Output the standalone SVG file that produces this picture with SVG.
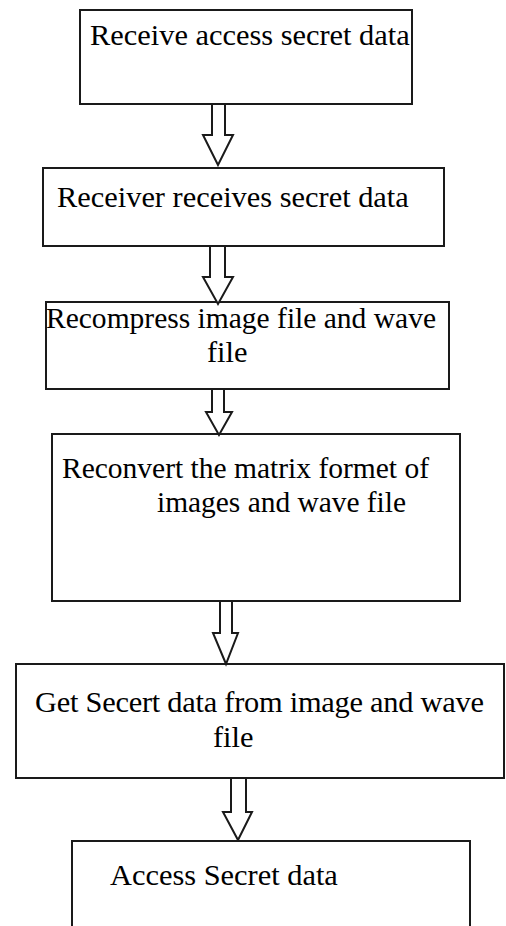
<svg xmlns="http://www.w3.org/2000/svg" width="506" height="926" viewBox="0 0 506 926">
  <style>
    .box { fill: #ffffff; stroke: #1a1a1a; stroke-width: 2; }
    .arrow { fill: #ffffff; stroke: #1a1a1a; stroke-width: 2; stroke-linejoin: miter; }
    .label { font-family: "Liberation Serif", "Times New Roman", serif; font-size: 30.4px; fill: #000000; }
  </style>
  <rect width="506" height="926" fill="#ffffff"/>

  <g id="step1">
    <rect class="box" x="80" y="10" width="332" height="94"/>
    <text class="label" x="90" y="45">Receive access secret data</text>
  </g>

  <g id="step2">
    <rect class="box" x="43" y="168" width="401" height="78"/>
    <text class="label" x="57" y="207">Receiver receives secret data</text>
  </g>

  <g id="step3">
    <rect class="box" x="46" y="302" width="403" height="87"/>
    <text class="label" x="46" y="328" textLength="390" lengthAdjust="spacingAndGlyphs">Recompress image file and wave</text>
    <text class="label" x="207" y="362">file</text>
  </g>

  <g id="step4">
    <rect class="box" x="52" y="434" width="408" height="167"/>
    <text class="label" x="62" y="478" textLength="367" lengthAdjust="spacingAndGlyphs">Reconvert the matrix formet of</text>
    <text class="label" x="157" y="512" textLength="249" lengthAdjust="spacingAndGlyphs">images and wave file</text>
  </g>

  <g id="step5">
    <rect class="box" x="16" y="664" width="488" height="114"/>
    <text class="label" x="35" y="712" textLength="449" lengthAdjust="spacing">Get Secert data from image and wave</text>
    <text class="label" x="213" y="747">file</text>
  </g>

  <g id="step6">
    <rect class="box" x="72" y="841" width="398" height="100"/>
    <text class="label" x="110" y="885">Access Secret data</text>
  </g>

  <!-- hollow block arrows between steps -->
  <g id="connectors">
    <path class="arrow" d="M212,104 L225,104 L225,135 L233,135 L218,165 L203,135 L212,135 Z"/>
    <path class="arrow" d="M210,246 L225,246 L225,277 L233,277 L218,304 L203,277 L210,277 Z"/>
    <path class="arrow" d="M212,389 L224,389 L224,412 L232,412 L219,435 L206,412 L212,412 Z"/>
    <path class="arrow" d="M220,601 L232,601 L232,633 L238,633 L226,664 L213,633 L220,633 Z"/>
    <path class="arrow" d="M231,778 L246,778 L246,812 L252,812 L238,840 L223,812 L231,812 Z"/>
  </g>
</svg>
